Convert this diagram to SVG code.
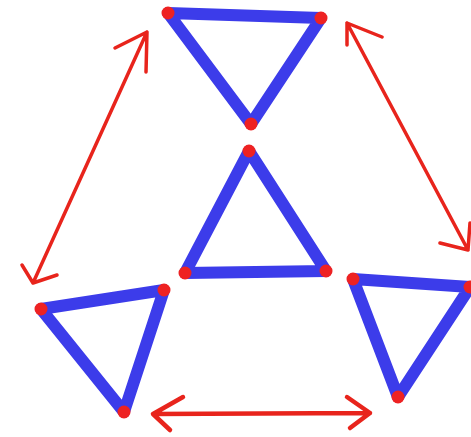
<svg xmlns="http://www.w3.org/2000/svg" width="471" height="437" viewBox="0 0 471 437">
<style>
.tri{fill:none;stroke:#3c3cea;stroke-width:12;stroke-linejoin:round;stroke-linecap:round}
.dot{fill:#ee2222}
.arr{fill:none;stroke:#e8241c;stroke-width:3.5;stroke-linecap:round;stroke-linejoin:round}
</style>
<rect width="471" height="437" fill="#ffffff"/>
<g id="connectors">
<path class="arr" d="M147,32 L33,283 M115,48 L147,32 L146,72 M22,265 L33,283 L57,275"/>
<path class="arr" d="M347,23 L468,250 M382,37 L347,23 L347,45 M440,243 L468,250 L470,223"/>
<path class="arr" style="stroke-width:4.5" d="M153,414 L370,413 M183,397 L153,414 L170,430 M347,397 L370,413 L350,428"/>
</g>
<g id="tri-top">
<polygon class="tri" points="168,13 321,18 251,124"/>
<circle class="dot" cx="168" cy="13" r="6.5"/><circle class="dot" cx="321" cy="18" r="6.5"/><circle class="dot" cx="251" cy="124" r="6.5"/>
</g>
<g id="tri-middle">
<polygon class="tri" points="249,151 326,271 185,273"/>
<circle class="dot" cx="249" cy="151" r="6.5"/><circle class="dot" cx="326" cy="271" r="6.5"/><circle class="dot" cx="185" cy="273" r="6.5"/>
</g>
<g id="tri-left">
<polygon class="tri" points="41,309 164,290 124,412"/>
<circle class="dot" cx="41" cy="309" r="6.5"/><circle class="dot" cx="164" cy="290" r="6.5"/><circle class="dot" cx="124" cy="412" r="6.5"/>
</g>
<g id="tri-right">
<polygon class="tri" points="353,279 470,287 398,397"/>
<circle class="dot" cx="353" cy="279" r="6.5"/><circle class="dot" cx="470" cy="287" r="6.5"/><circle class="dot" cx="398" cy="397" r="6.5"/>
</g>
</svg>
